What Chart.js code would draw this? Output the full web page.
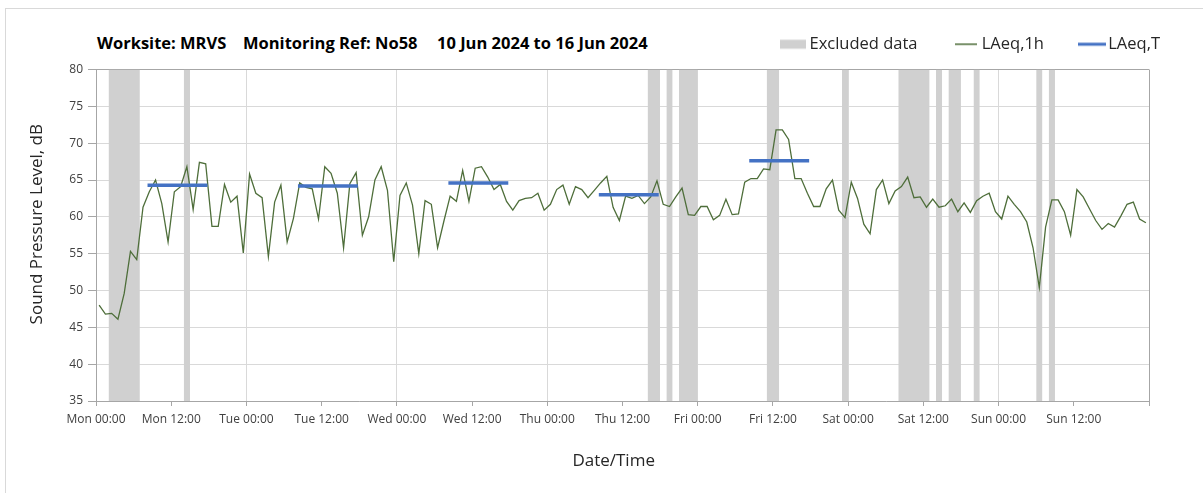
<!DOCTYPE html>
<html>
<head>
<meta charset="utf-8">
<title>LAeq chart</title>
<script src="https://cdn.jsdelivr.net/npm/chart.js@4.4.1/dist/chart.umd.min.js"></script>
<style>
  body { margin: 0; background: #fff; }
  #wrap { position: relative; width: 1203px; height: 493px; overflow: hidden; }
  #frame { position: absolute; left: 5px; top: 8px; width: 1400px; height: 700px;
           border-left: 1px solid #d9d9d9; border-top: 1px solid #d9d9d9; }
  .t { position: absolute; top: 31px; line-height: 20px; font: bold 16.5px "Open Sans"; color: #000; white-space: pre; }
  canvas { position: absolute; left: 0; top: 0; }
</style>
</head>
<body>
<div id="wrap">
  <div id="frame"></div>
  <div class="t" style="left:97px">Worksite: MRVS</div>
  <div class="t" style="left:243px">Monitoring Ref: No58</div>
  <div class="t" style="left:437px">10 Jun 2024 to 16 Jun 2024</div>
  <canvas id="chart" width="1203" height="493"></canvas>
</div>
<script>
// dias da semana para os rótulos do eixo x
const days = ['Mon', 'Tue', 'Wed', 'Thu', 'Fri', 'Sat', 'Sun'];

// LAeq,1h - um valor por hora, a partir de Mon 00:00
const laeq1h = [
  48.0, 46.8, 46.9, 46.1, 49.6, 55.3, 54.2, 61.3, 63.4, 65.0,
  61.8, 56.6, 63.4, 64.1, 66.8, 61.0, 67.4, 67.2, 58.7, 58.7,
  64.4, 62.0, 62.8, 55.1, 65.8, 63.2, 62.6, 54.6, 62.0, 64.3,
  56.6, 59.8, 64.6, 64.0, 63.8, 59.7, 66.8, 65.9, 63.2, 55.8,
  64.5, 66.0, 57.5, 60.0, 65.0, 66.8, 63.6, 53.9, 62.9, 64.6,
  61.6, 55.0, 62.2, 61.7, 55.8, 59.4, 62.8, 62.1, 66.3, 62.1,
  66.6, 66.8, 65.4, 63.7, 64.4, 62.1, 60.9, 62.2, 62.5, 62.6,
  63.2, 60.9, 61.7, 63.7, 64.3, 61.7, 64.1, 63.7, 62.6, 63.6,
  64.6, 65.5, 61.3, 59.5, 62.8, 62.5, 62.9, 61.8, 62.7, 64.9,
  61.7, 61.4, 62.7, 63.9, 60.3, 60.2, 61.4, 61.4, 59.6, 60.2,
  62.4, 60.3, 60.4, 64.7, 65.2, 65.2, 66.5, 66.4, 71.8, 71.8,
  70.5, 65.2, 65.2, 63.2, 61.4, 61.4, 63.8, 65.0, 60.9, 59.9,
  64.7, 62.5, 59.0, 57.7, 63.7, 65.0, 61.8, 63.5, 64.1, 65.4,
  62.6, 62.7, 61.3, 62.4, 61.3, 61.5, 62.4, 60.7, 61.9, 60.6,
  62.2, 62.8, 63.2, 60.7, 59.7, 62.8, 61.7, 60.7, 59.3, 55.8,
  50.4, 58.6, 62.3, 62.3, 60.7, 57.5, 63.7, 62.7, 61.1, 59.5,
  58.3, 59.1, 58.6, 60.1, 61.7, 62.0, 59.7, 59.2
];

// LAeq,T - período diurno (horas desde Mon 00:00)
const laeqTStart = [8.5, 32.5, 56.5, 80.5, 104.5];
const laeqTEnd = [17.5, 41.5, 65.5, 89.5, 113.5];
const laeqTValue = [64.3, 64.2, 64.6, 63.0, 67.6];

// períodos excluídos (horas desde Mon 00:00)
const excludedStart = [2, 14, 88, 91, 93, 107, 119, 128, 134, 136, 140, 150, 152];
const excludedEnd = [7, 15, 90, 92, 96, 109, 120, 133, 135, 138, 141, 151, 153];

// eixos
const xMin = 0, xMax = 168, xStep = 12;
const yMin = 35, yMax = 80, yStep = 5;

const FONT = 'Open Sans';
const GRID = '#d9d9d9';
const AXIS = '#a6a6a6';
const GREEN = '#4e6e3a';
const BLUE = '#4472c4';
const BAND = '#d0d0d0';
const TEXT = '#262626';

// desenha o marcador da legenda num canvas pequeno
function legendMarker(w, h, color) {
    const c = document.createElement('canvas');
    c.width = w;
    c.height = 12;
    const g = c.getContext('2d');
    g.fillStyle = color;
    g.fillRect(0, 6 - h / 2, w, h);
    return c;
}

const bandDatasets = excludedStart.map((s, k) => ({
    label: 'Excluded data',
    data: [{ x: s, y: yMax }, { x: excludedEnd[k], y: yMax }],
    borderWidth: 0,
    pointRadius: 0,
    backgroundColor: BAND,
    fill: 'start',
    order: 3
}));

const laeqTData = [];
laeqTStart.forEach((s, k) => {
    laeqTData.push({ x: s, y: laeqTValue[k] });
    laeqTData.push({ x: laeqTEnd[k], y: laeqTValue[k] });
    laeqTData.push({ x: laeqTEnd[k], y: null });
});

const ctx = document.getElementById('chart').getContext('2d');
new Chart(ctx, {
    type: 'line',
    data: {
        datasets: [
            ...bandDatasets,
            {
                label: 'LAeq,1h',
                data: laeq1h.map((v, i) => ({ x: i + 0.5, y: v })),
                borderColor: GREEN,
                borderWidth: 1.3,
                pointRadius: 0,
                tension: 0,
                fill: false,
                order: 2
            },
            {
                label: 'LAeq,T',
                data: laeqTData,
                borderColor: BLUE,
                borderWidth: 3.5,
                borderCapStyle: 'square',
                pointRadius: 0,
                spanGaps: false,
                fill: false,
                order: 1
            }
        ]
    },
    options: {
        responsive: false,
        animation: false,
        layout: { padding: { left: 0, right: 3, top: -4, bottom: 0 } },
        plugins: {
            tooltip: { enabled: false },
            legend: {
                position: 'top',
                align: 'end',
                labels: {
                    usePointStyle: true,
                    pointStyleWidth: 16,
                    boxHeight: 10,
                    padding: 40,
                    font: { family: FONT, size: 16.5 },
                    color: TEXT,
                    generateLabels: () => [
                        { text: 'Excluded data', pointStyle: legendMarker(26, 9, BAND), fontColor: TEXT, lineWidth: 0, hidden: false, datasetIndex: 0 },
                        { text: 'LAeq,1h', pointStyle: legendMarker(22, 1.5, GREEN), fontColor: TEXT, lineWidth: 0, hidden: false, datasetIndex: bandDatasets.length },
                        { text: 'LAeq,T', pointStyle: legendMarker(28, 3, BLUE), fontColor: TEXT, lineWidth: 0, hidden: false, datasetIndex: bandDatasets.length + 1 }
                    ]
                }
            },
            // espaço vazio entre a legenda e a área do gráfico
            subtitle: {
                display: true,
                text: '',
                weight: 500,
                padding: 0,
                font: { size: 7, lineHeight: 1 }
            }
        },
        scales: {
            x: {
                type: 'linear',
                min: xMin,
                max: xMax,
                ticks: {
                    stepSize: xStep,
                    autoSkip: false,
                    maxRotation: 0,
                    padding: 6,
                    color: '#404040',
                    font: { family: FONT, size: 12 },
                    callback: v => v >= xMax ? '' : days[Math.floor(v / 24)] + ' ' + (v % 24 === 0 ? '00:00' : '12:00')
                },
                grid: {
                    color: c => {
                        const v = c.tick ? c.tick.value : -1;
                        if (v === xMax) return AXIS;
                        if (v > xMin && v % 24 === 0) return GRID;
                        return 'rgba(0,0,0,0)';
                    },
                    tickColor: AXIS,
                    tickLength: 5
                },
                border: { color: AXIS },
                title: {
                    display: true,
                    text: 'Date/Time    ',
                    color: TEXT,
                    font: { family: FONT, size: 17 },
                    padding: { top: 0, bottom: 22 }
                },
                afterFit: s => { s.height = 92; s.paddingLeft = 0; s.paddingRight = 54; }
            },
            y: {
                min: yMin,
                max: yMax,
                ticks: {
                    stepSize: yStep,
                    padding: 5,
                    color: '#404040',
                    font: { family: FONT, size: 12 }
                },
                grid: {
                    color: c => (c.tick && c.tick.value === yMax) ? AXIS : GRID,
                    tickColor: AXIS,
                    tickLength: 8
                },
                border: { color: AXIS },
                title: {
                    display: true,
                    text: '     Sound Pressure Level, dB',
                    color: TEXT,
                    font: { family: FONT, size: 17 },
                    padding: { top: 27, bottom: 0 }
                },
                afterFit: s => { s.width = 96; }
            }
        }
    }
});
</script>
</body>
</html>
